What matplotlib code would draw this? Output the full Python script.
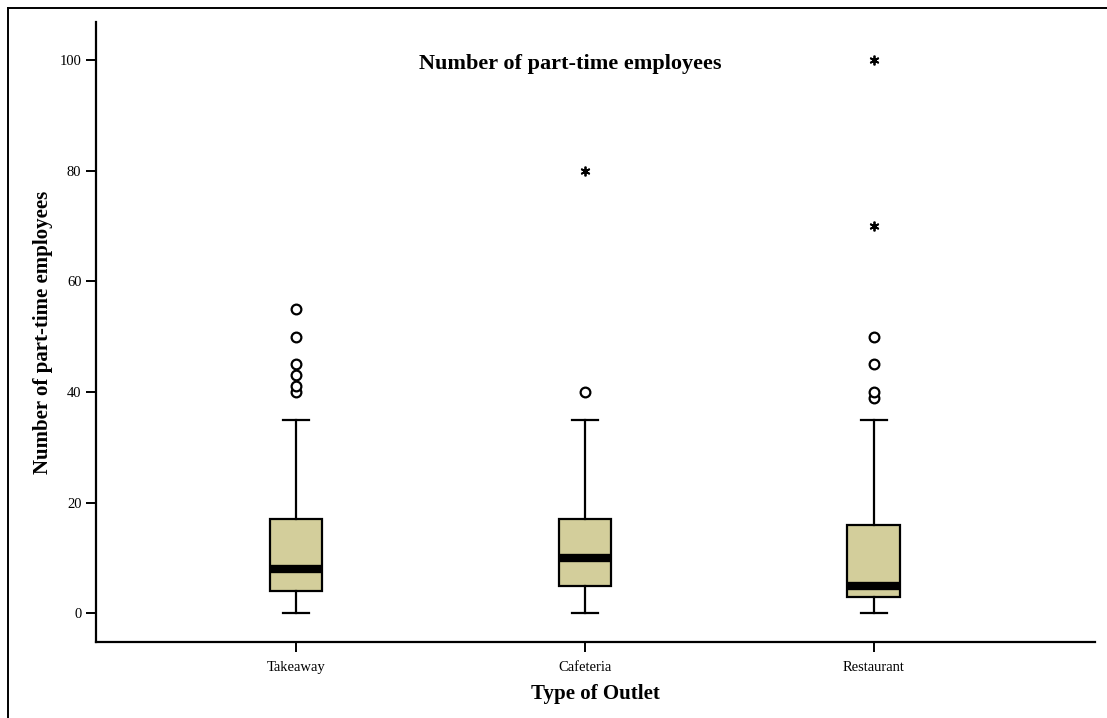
import matplotlib.pyplot as plt
from matplotlib.lines import Line2D

plt.rcParams["font.family"] = ["Liberation Serif", "DejaVu Serif"]

# 数据
categories = ["Takeaway", "Cafeteria", "Restaurant"]
q1 = [4, 5, 3]
medians = [8, 10, 5]
q3 = [17, 17, 16]
whisker_low = [0, 0, 0]
whisker_high = [35, 35, 35]
outliers = [[40, 41, 43, 45, 50, 55], [40], [39, 40, 45, 50]]
extremes = [[], [80], [70, 100]]

BOX_COLOR = "#d3ce9b"

fig = plt.figure(figsize=(11.07, 7.18), dpi=100)
ax = fig.add_axes([96 / 1107, 76 / 718, 999 / 1107, 620 / 718])

stats = []
for i, name in enumerate(categories):
    stats.append({
        "label": name,
        "q1": q1[i], "med": medians[i], "q3": q3[i],
        "whislo": whisker_low[i], "whishi": whisker_high[i],
        "fliers": outliers[i],
    })

positions = range(1, len(categories) + 1)
ax.bxp(
    stats, positions=positions, widths=0.183, patch_artist=True,
    boxprops=dict(facecolor=BOX_COLOR, edgecolor="black", linewidth=1.6),
    medianprops=dict(color="black", linewidth=6, solid_capstyle="butt"),
    whiskerprops=dict(color="black", linewidth=1.6),
    capprops=dict(color="black", linewidth=1.6),
    capwidths=0.092,
    flierprops=dict(marker="o", markerfacecolor="white", markeredgecolor="black",
                    markersize=7, markeredgewidth=1.6),
)

# 极端值用星号
for pos, ext in zip(positions, extremes):
    if ext:
        ax.plot([pos] * len(ext), ext, linestyle="none", marker=(6, 2, 0),
                color="black", markersize=7, markeredgewidth=1.3)

ax.set_xlim(0.308, 3.765)
ax.set_ylim(-5.2, 106.9)
ax.set_yticks([0, 20, 40, 60, 80, 100])
ax.set_xticks(list(positions))
ax.set_xticklabels(categories)
ax.tick_params(axis="both", direction="out", length=7.5, width=1.4, labelsize=10.5, pad=3)
ax.tick_params(axis="x", pad=6.5)

for side in ("top", "right"):
    ax.spines[side].set_visible(False)
for side in ("left", "bottom"):
    ax.spines[side].set_linewidth(1.6)

ax.set_ylabel("Number of part-time employees", fontsize=15, fontweight="bold", labelpad=5)
ax.set_xlabel("Type of Outlet", fontsize=15, fontweight="bold", labelpad=7)
ax.text(0.475, 0.932, "Number of part-time employees", transform=ax.transAxes,
        ha="center", va="center", fontsize=16, fontweight="bold")

# 外框（左、上）
fig.add_artist(Line2D([8 / 1107, 8 / 1107], [0, 1 - 8 / 718], transform=fig.transFigure,
                      color="black", linewidth=1.4))
fig.add_artist(Line2D([8 / 1107, 1], [1 - 8 / 718, 1 - 8 / 718], transform=fig.transFigure,
                      color="black", linewidth=1.4))

fig.savefig("out.png", dpi=100)
